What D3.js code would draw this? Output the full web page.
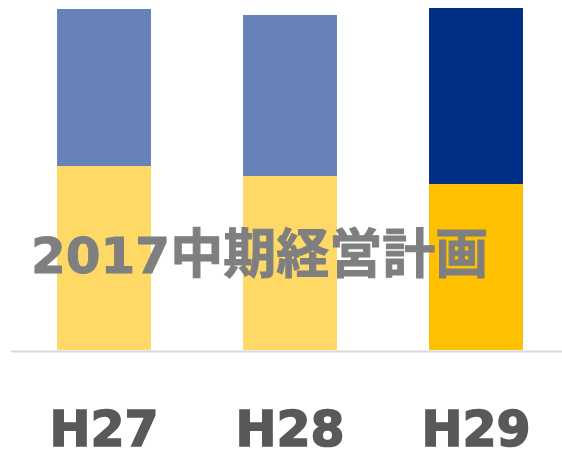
<!DOCTYPE html>
<html>
<head>
<meta charset="utf-8">
<script src="https://cdn.jsdelivr.net/npm/d3@7"></script>
<style>
  body { margin: 0; background: #fff; }
</style>
</head>
<body>
<div id="chart"></div>
<script>
var width = 562;
var height = 452;
var baseY = 350;

var categories = ["H27", "H28", "H29"];
var lowerValues = [184, 174, 166];
var upperValues = [157, 161, 176];
var lowerColors = ["#ffd966", "#ffd966", "#ffc000"];
var upperColors = ["#6782b9", "#6782b9", "#002f87"];
var titleNum = "2017";
var titleJa = "中期経営計画";

var x = d3.scaleBand()
  .domain(categories)
  .range([11, 569])
  .paddingInner(0.495)
  .paddingOuter(0.2475);

var y = d3.scaleLinear()
  .domain([0, 350])
  .range([baseY, 0]);

var svg = d3.select("#chart").append("svg")
  .attr("width", width)
  .attr("height", height);

var rows = categories.map(function(c, i) {
  return { cat: c, lo: lowerValues[i], up: upperValues[i], i: i };
});

// lower segment
svg.selectAll("rect.lo")
  .data(rows)
  .enter().append("rect")
    .attr("class", "lo")
    .attr("x", d => x(d.cat))
    .attr("width", x.bandwidth())
    .attr("y", d => y(d.lo))
    .attr("height", d => baseY - y(d.lo))
    .attr("fill", d => lowerColors[d.i]);

// upper segment
svg.selectAll("rect.up")
  .data(rows)
  .enter().append("rect")
    .attr("class", "up")
    .attr("x", d => x(d.cat))
    .attr("width", x.bandwidth())
    .attr("y", d => y(d.lo + d.up))
    .attr("height", d => y(d.lo) - y(d.lo + d.up))
    .attr("fill", d => upperColors[d.i]);

// baseline
svg.append("line")
  .attr("x1", 11).attr("x2", width)
  .attr("y1", baseY + 1.5).attr("y2", baseY + 1.5)
  .attr("stroke", "#d9d9d9")
  .attr("stroke-width", 2);

// category labels
svg.selectAll("text.cat")
  .data(categories)
  .enter().append("text")
    .attr("class", "cat")
    .attr("x", d => x(d) + x.bandwidth() / 2)
    .attr("y", 446)
    .attr("text-anchor", "middle")
    .attr("font-family", "'DejaVu Sans', sans-serif")
    .attr("font-weight", "bold")
    .attr("font-size", 49)
    .attr("fill", "#595959")
    .attr("stroke", "#595959")
    .attr("stroke-width", 1.6)
    .text(d => d);

// overlay title
var t = svg.append("text")
  .attr("x", 31)
  .attr("y", 273)
  .attr("fill", "#7f7f7f")
  .attr("stroke", "#7f7f7f")
  .attr("stroke-width", 1)
  .attr("font-weight", "bold");
t.append("tspan")
  .attr("font-family", "'DejaVu Sans', sans-serif")
  .attr("font-size", 50)
  .text(titleNum);
t.append("tspan")
  .attr("font-family", "'Noto Sans CJK JP', sans-serif")
  .attr("font-size", 53)
  .text(titleJa);
</script>
</body>
</html>
